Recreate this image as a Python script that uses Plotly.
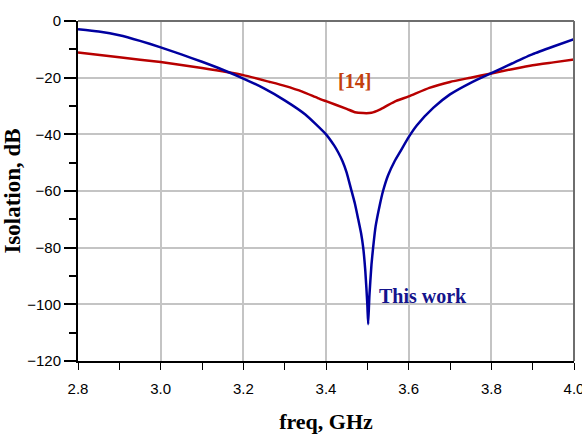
import plotly.graph_objects as go

freq_blue = [2.80, 2.85, 2.90, 2.95, 3.00, 3.05, 3.10, 3.15, 3.20, 3.25, 3.30, 3.35,
             3.40, 3.42, 3.43, 3.44, 3.45, 3.46, 3.47, 3.478, 3.485, 3.49, 3.495,
             3.50, 3.502, 3.505, 3.51, 3.514, 3.52, 3.53, 3.538, 3.55, 3.566, 3.58, 3.60,
             3.62, 3.66, 3.70, 3.75, 3.80, 3.85, 3.90, 3.95, 4.00]
iso_blue = [-2.9, -3.7, -5.0, -7.0, -9.3, -11.8, -14.4, -17.2, -20.3, -23.8, -28.0, -33.0,
            -40.0, -44.0, -46.5, -49.5, -53.5, -59.0, -64.5, -70.0, -75.0, -80.0, -88.0,
            -100.0, -107.0, -97.0, -86.0, -80.0, -72.5, -65.0, -60.0, -54.5, -49.5, -46.0, -41.0,
            -36.8, -30.6, -25.9, -21.8, -18.4, -15.0, -11.7, -9.0, -6.4]

freq_red = [2.80, 2.90, 3.00, 3.10, 3.20, 3.264, 3.30, 3.344, 3.38, 3.40, 3.45, 3.47, 3.49,
            3.51, 3.53, 3.55, 3.57, 3.60, 3.65, 3.70, 3.75, 3.80, 3.85, 3.90, 3.95, 4.00]
iso_red = [-11.1, -12.8, -14.5, -16.6, -19.1, -21.5, -22.9, -25.0, -27.2, -28.3, -31.0, -32.2,
           -32.5, -32.4, -31.3, -29.7, -28.2, -26.6, -23.6, -21.5, -20.0, -18.5, -17.0, -15.6,
           -14.6, -13.6]

x_ticks = [2.8, 3.0, 3.2, 3.4, 3.6, 3.8, 4.0]
x_labels = ["2.8", "3.0", "3.2", "3.4", "3.6", "3.8", "4.0"]
y_ticks = [0, -20, -40, -60, -80, -100, -120]

fig = go.Figure()
fig.add_trace(go.Scatter(x=freq_red, y=iso_red, mode="lines",
                         line=dict(color="#b80000", width=2.5, shape="spline", smoothing=0.5),
                         showlegend=False))
fig.add_trace(go.Scatter(x=freq_blue, y=iso_blue, mode="lines",
                         line=dict(color="#0000a0", width=2.5, shape="spline", smoothing=0.5),
                         showlegend=False))

fig.add_annotation(x=3.47, y=-21, text="<b>[14]</b>", showarrow=False,
                   font=dict(family="Liberation Serif", size=20, color="#c4400c"))
fig.add_annotation(x=3.523, y=-97, text="<b>This work</b>", showarrow=False, xanchor="left",
                   font=dict(family="Liberation Serif", size=20, color="#14148c"))

# top and right frame lines (gray)
fig.add_shape(type="line", xref="paper", yref="paper", x0=0, x1=1, y0=1, y1=1,
              line=dict(color="#6e6e6e", width=2))
fig.add_shape(type="line", xref="paper", yref="paper", x0=1, x1=1, y0=0, y1=1,
              line=dict(color="#6e6e6e", width=2))

fig.update_layout(
    width=582, height=434,
    margin=dict(l=78, r=8, t=21, b=73),
    plot_bgcolor="white", paper_bgcolor="white",
    font=dict(family="Liberation Sans", size=15, color="black"),
)
fig.update_xaxes(
    range=[2.8, 4.0], tickvals=x_ticks, ticktext=x_labels,
    showgrid=True, gridcolor="#c4c4c4", gridwidth=1.5,
    showline=True, linecolor="black", linewidth=2,
    ticks="outside", ticklen=13, tickcolor="rgba(0,0,0,0)",
    ticklabeloverflow="allow", automargin=False,
    minor=dict(ticks="outside", ticklen=7, tickcolor="black", dtick=0.1, tick0=2.8,
               showgrid=False),
    zeroline=False,
    title=dict(text="<b>freq, GHz</b>", font=dict(family="Liberation Serif", size=22),
               standoff=18),
)
fig.update_yaxes(
    range=[-120, 0], tickvals=y_ticks,
    showgrid=True, gridcolor="#c4c4c4", gridwidth=1.5,
    showline=True, linecolor="black", linewidth=2,
    ticks="outside", ticklen=12, tickcolor="black", tickwidth=1.5,
    automargin=False,
    minor=dict(ticks="outside", ticklen=7, tickcolor="black", dtick=10, tick0=0,
               showgrid=False),
    zeroline=False,
    title=dict(text="<b>Isolation, dB</b>", font=dict(family="Liberation Serif", size=23),
               standoff=8),
)

fig.write_html("out.html")
